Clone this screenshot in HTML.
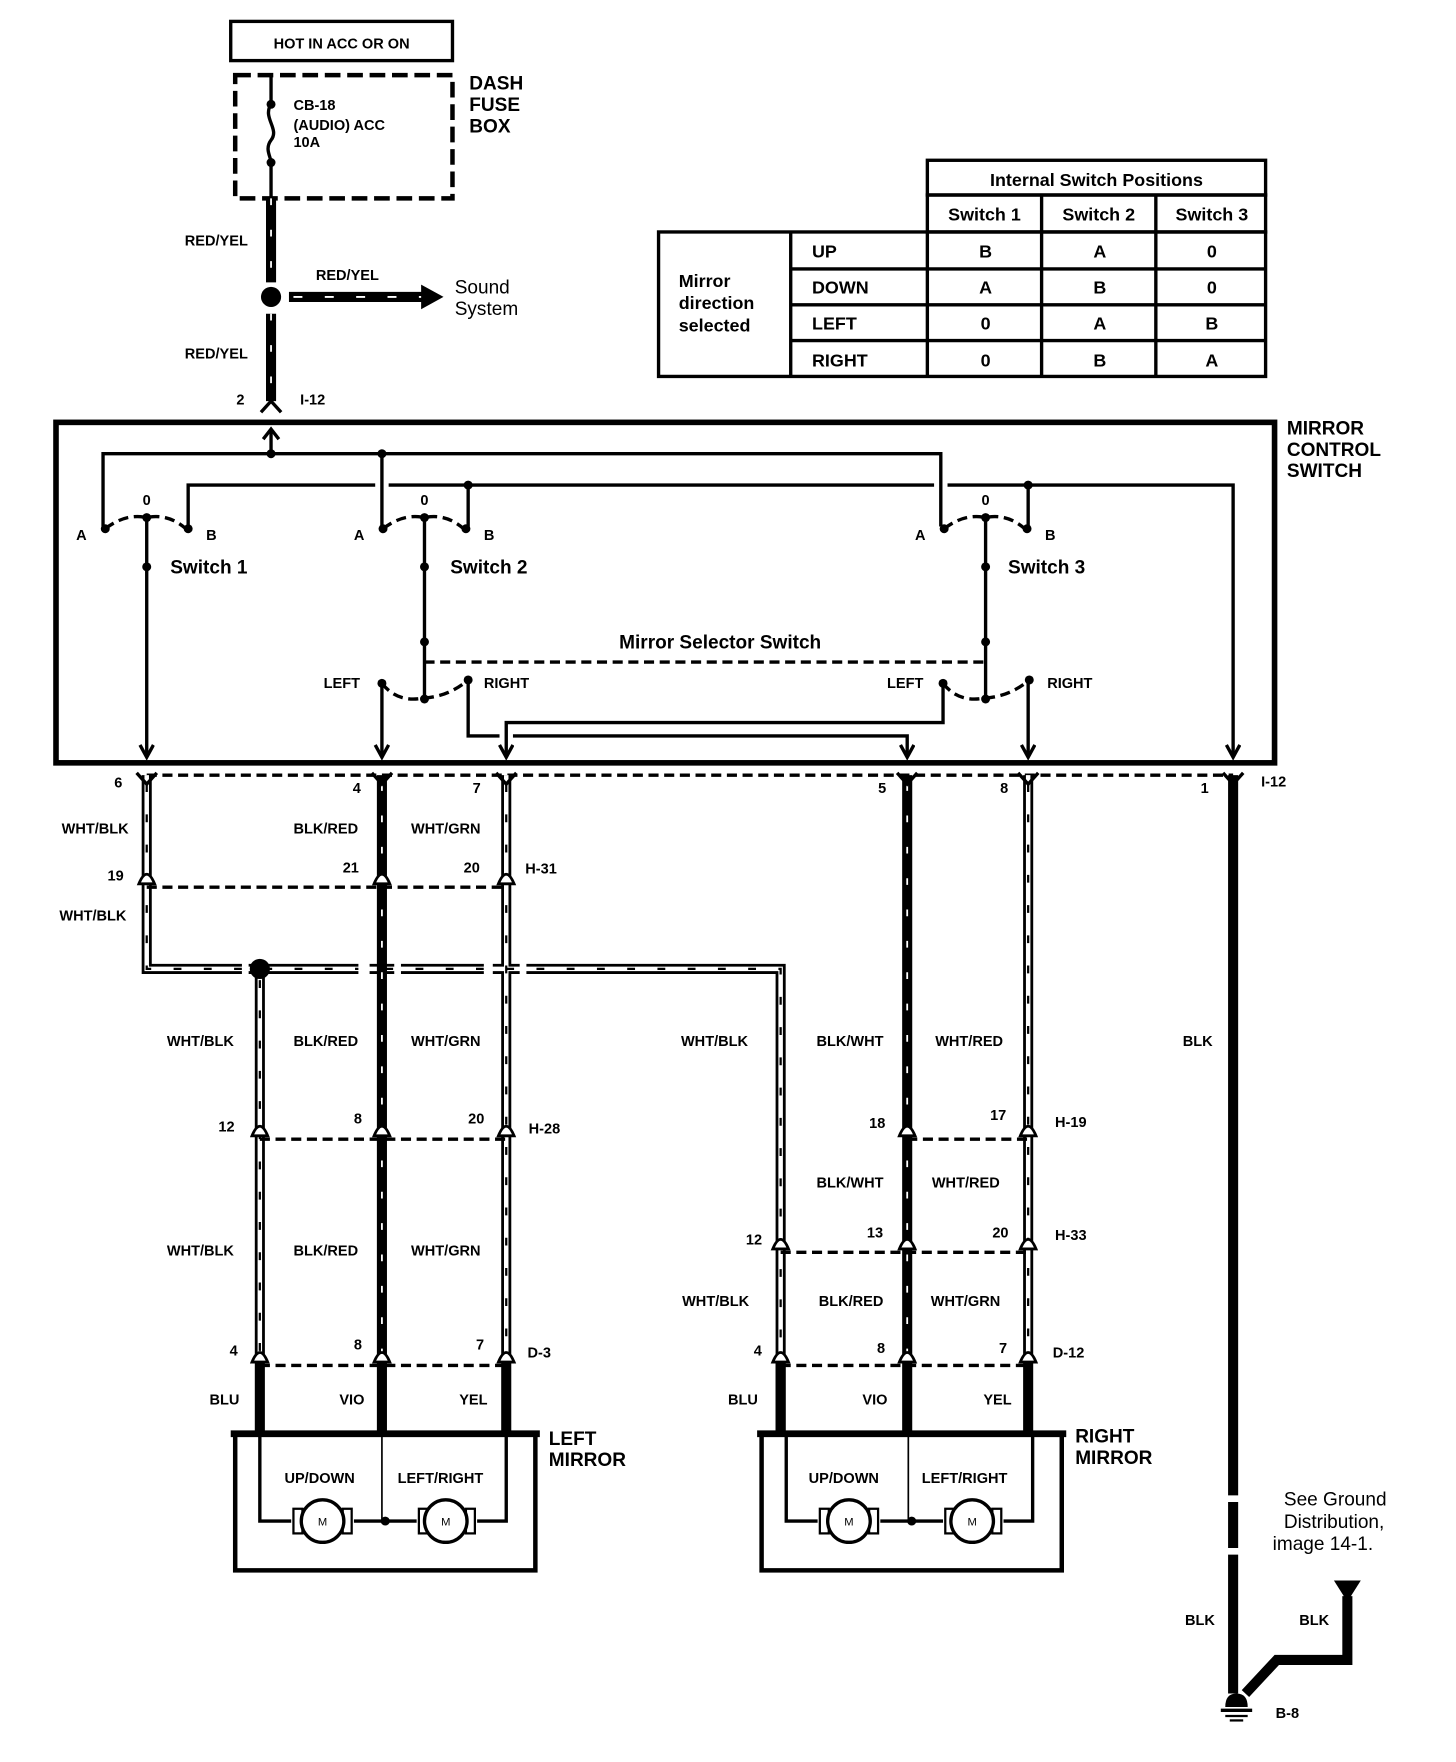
<!DOCTYPE html>
<html><head><meta charset="utf-8"><style>
html,body{margin:0;padding:0;background:#fff}
svg{display:block}
text{font-family:"Liberation Sans",sans-serif;font-weight:bold;fill:#000}
.l{font-size:13px}
.m{font-size:17px}
.n{font-size:17px;font-weight:normal}
.k{stroke:#000;stroke-width:9;fill:none}
.kw{stroke:#fff;stroke-width:1.6;stroke-dasharray:6 22;fill:none}
.h{stroke:#000;stroke-width:9;fill:none}
.hw{stroke:#fff;stroke-width:4;fill:none}
.hd{stroke:#000;stroke-width:2;stroke-dasharray:7 20;fill:none}
.t{stroke:#000;stroke-width:3;fill:none}
.d{stroke:#000;stroke-width:3;stroke-dasharray:9 5;fill:none}
.db{stroke:#000;stroke-width:4;stroke-dasharray:14 6;fill:none}
</style></head><body>
<svg width="1456" height="1762" viewBox="0 0 1300 1573" xmlns="http://www.w3.org/2000/svg">
<defs>
<marker id="ar" markerWidth="16" markerHeight="16" refX="13" refY="7" orient="auto" markerUnits="userSpaceOnUse"><path d="M2,1 L13,7 L2,13" stroke="#000" stroke-width="3" fill="none"/></marker>
</defs>
<!-- top -->
<rect x="206" y="19" width="198" height="35" class="t"/>
<text x="305" y="43" class="l" text-anchor="middle">HOT IN ACC OR ON</text>
<rect x="210" y="67" width="194" height="110" class="db"/>
<line x1="242" y1="67" x2="242" y2="92" class="t"/>
<circle cx="242" cy="93" r="4"/>
<path d="M242,93 C234,105 250,115 242,125 C236,133 242,140 242,145" class="t"/>
<circle cx="242" cy="145" r="4"/>
<line x1="242" y1="145" x2="242" y2="177" class="t"/>
<text x="262" y="98" class="l">CB-18</text>
<text x="262" y="116" class="l">(AUDIO) ACC</text>
<text x="262" y="131" class="l">10A</text>
<text x="419" y="80" class="m">DASH</text>
<text x="419" y="99" class="m">FUSE</text>
<text x="419" y="118" class="m">BOX</text>
<line x1="242" y1="177" x2="242" y2="252" class="k"/><line x1="242" y1="177" x2="242" y2="252" class="kw"/>
<circle cx="242" cy="265" r="9"/>
<line x1="258" y1="265" x2="378" y2="265" class="k"/><line x1="262" y1="265" x2="378" y2="265" class="kw" style="stroke-dasharray:8 20"/>
<path d="M376,254 L396,265 L376,276 Z"/>
<line x1="242" y1="280" x2="242" y2="358" class="k"/><line x1="242" y1="280" x2="242" y2="358" class="kw"/>
<path d="M233,368 L242,358 L251,368" class="t"/>
<text x="165" y="219" class="l">RED/YEL</text>
<text x="282" y="250" class="l">RED/YEL</text>
<text x="165" y="320" class="l">RED/YEL</text>
<text x="406" y="262" class="n">Sound</text>
<text x="406" y="281" class="n">System</text>
<text x="211" y="361" class="l">2</text>
<text x="268" y="361" class="l">I-12</text>
<!-- table -->
<rect x="828" y="143" width="302" height="31" class="t"/>
<text x="979" y="166" class="m" text-anchor="middle" style="font-size:16px">Internal Switch Positions</text>
<rect x="828" y="174" width="302" height="33" class="t"/>
<line x1="930" y1="174" x2="930" y2="336" class="t"/>
<line x1="1032" y1="174" x2="1032" y2="336" class="t"/>
<text x="879" y="197" class="m" text-anchor="middle" style="font-size:16px">Switch 1</text>
<text x="981" y="197" class="m" text-anchor="middle" style="font-size:16px">Switch 2</text>
<text x="1082" y="197" class="m" text-anchor="middle" style="font-size:16px">Switch 3</text>
<rect x="588" y="207" width="542" height="129" class="t"/>
<line x1="706" y1="207" x2="706" y2="336" class="t"/>
<line x1="828" y1="207" x2="828" y2="336" class="t"/>
<line x1="706" y1="240" x2="1130" y2="240" class="t"/>
<line x1="706" y1="272" x2="1130" y2="272" class="t"/>
<line x1="706" y1="304" x2="1130" y2="304" class="t"/>
<text x="606" y="256" class="m" style="font-size:16px">Mirror</text>
<text x="606" y="276" class="m" style="font-size:16px">direction</text>
<text x="606" y="296" class="m" style="font-size:16px">selected</text>
<g class="m" style="font-size:16px">
<text x="725" y="230">UP</text><text x="725" y="262">DOWN</text><text x="725" y="294">LEFT</text><text x="725" y="327">RIGHT</text>
</g>
<g class="m" style="font-size:16px" text-anchor="middle">
<text x="880" y="230">B</text><text x="982" y="230">A</text><text x="1082" y="230">0</text>
<text x="880" y="262">A</text><text x="982" y="262">B</text><text x="1082" y="262">0</text>
<text x="880" y="294">0</text><text x="982" y="294">A</text><text x="1082" y="294">B</text>
<text x="880" y="327">0</text><text x="982" y="327">B</text><text x="1082" y="327">A</text>
</g>
<!-- control switch box -->
<rect x="50" y="377" width="1088" height="304" style="stroke:#000;stroke-width:5;fill:none"/>
<text x="1149" y="388" class="m">MIRROR</text>
<text x="1149" y="407" class="m">CONTROL</text>
<text x="1149" y="426" class="m">SWITCH</text>
<line x1="242" y1="405" x2="242" y2="384" class="t"/><path d="M235,392 L242,383 L249,392" class="t"/>
<polyline points="92,470 92,405 840,405 840,470" class="t"/>
<line x1="341" y1="405" x2="341" y2="470" class="t"/>
<circle cx="242" cy="405" r="4"/><circle cx="341" cy="405" r="4"/>
<polyline points="168,470 168,433 335,433" class="t"/>
<line x1="347" y1="433" x2="834" y2="433" class="t"/>
<polyline points="846,433 1101,433 1101,676" class="t" marker-end="url(#ar)"/>
<line x1="418" y1="433" x2="418" y2="470" class="t"/><line x1="918" y1="433" x2="918" y2="470" class="t"/>
<circle cx="418" cy="433" r="4"/><circle cx="918" cy="433" r="4"/>
<!-- switches -->
<g id="sw">
<text x="131" y="451" class="l" text-anchor="middle">0</text>
<path d="M94,472 Q112,458 131,462 Q150,458 166,472" class="d"/>
<circle cx="131" cy="462" r="4"/><circle cx="94" cy="472" r="4"/><circle cx="168" cy="472" r="4"/>
<text x="68" y="482" class="l">A</text><text x="184" y="482" class="l">B</text>
</g>
<use href="#sw" x="248"/><use href="#sw" x="749"/>
<line x1="131" y1="462" x2="131" y2="676" class="t" marker-end="url(#ar)"/>
<circle cx="131" cy="506" r="4"/>
<text x="152" y="512" class="m">Switch 1</text>
<line x1="379" y1="462" x2="379" y2="625" class="t"/>
<circle cx="379" cy="506" r="4"/><circle cx="379" cy="573" r="4"/>
<text x="402" y="512" class="m">Switch 2</text>
<line x1="880" y1="462" x2="880" y2="625" class="t"/>
<circle cx="880" cy="506" r="4"/><circle cx="880" cy="573" r="4"/>
<text x="900" y="512" class="m">Switch 3</text>
<text x="643" y="579" class="m" text-anchor="middle">Mirror Selector Switch</text>
<line x1="379" y1="591" x2="880" y2="591" class="d"/>
<g id="sel">
<path d="M341,610 Q355,628 379,623 Q400,622 418,607" class="d"/>
<circle cx="341" cy="610" r="4"/><circle cx="379" cy="624" r="4"/><circle cx="418" cy="607" r="4"/>
</g>
<use href="#sel" x="501"/>
<text x="289" y="614" class="l">LEFT</text><text x="432" y="614" class="l">RIGHT</text>
<text x="792" y="614" class="l">LEFT</text><text x="935" y="614" class="l">RIGHT</text>
<line x1="341" y1="610" x2="341" y2="676" class="t" marker-end="url(#ar)"/>
<polyline points="418,607 418,657 446,657" class="t"/>
<polyline points="458,657 810,657 810,676" class="t" marker-end="url(#ar)"/>
<polyline points="842,610 842,645 452,645 452,676" class="t" marker-end="url(#ar)"/>
<line x1="918" y1="607" x2="918" y2="676" class="t" marker-end="url(#ar)"/>
<!-- connector row I-12 -->
<line x1="131" y1="692" x2="1101" y2="692" class="d"/>
<g class="l">
<text x="102" y="703">6</text><text x="315" y="708">4</text><text x="422" y="708">7</text>
<text x="784" y="708">5</text><text x="893" y="708">8</text><text x="1072" y="708">1</text><text x="1126" y="702">I-12</text>
</g>
<!-- hollow wires -->
<g>
<path d="M131,692 V865 H697 V1280" class="h"/>
<path d="M232,865 V1215" class="h"/>
<path d="M452,692 V1215" class="h"/>
<path d="M918,692 V1215" class="h"/>
<path d="M131,692 V865 H697 V1280" class="hw"/>
<path d="M232,865 V1215" class="hw"/>
<path d="M452,692 V1215" class="hw"/>
<path d="M918,692 V1215" class="hw"/>
<path d="M131,700 V865 H697 V1215" class="hd"/>
<path d="M232,875 V1215" class="hd"/><path d="M452,700 V1215" class="hd"/><path d="M918,700 V1215" class="hd"/>
</g>
<!-- solid wires -->
<path d="M341,692 V1280" class="k"/><path d="M341,700 V1215" class="kw"/>
<path d="M810,692 V1280" class="k"/><path d="M810,700 V1215" class="kw"/>
<path d="M232,1215 V1280 M452,1215 V1280 M697,1215 V1280 M918,1215 V1280" class="k"/>
<line x1="1101" y1="692" x2="1101" y2="1335" class="k"/>
<line x1="1101" y1="1341" x2="1101" y2="1382" class="k"/>
<line x1="1101" y1="1388" x2="1101" y2="1512" class="k"/>
<circle cx="232" cy="865" r="9"/>
<!-- gaps for crossings -->
<rect x="216" y="859" width="6" height="12" fill="#fff"/><rect x="320" y="859" width="10" height="12" fill="#fff"/><rect x="352" y="859" width="6" height="12" fill="#fff"/>
<rect x="432" y="859" width="8" height="12" fill="#fff"/><rect x="464" y="859" width="6" height="12" fill="#fff"/>
<!-- connector dashed lines -->
<line x1="131" y1="792" x2="452" y2="792" class="d"/>
<line x1="232" y1="1017" x2="452" y2="1017" class="d"/>
<line x1="232" y1="1219" x2="452" y2="1219" class="d"/>
<line x1="810" y1="1017" x2="918" y2="1017" class="d"/>
<line x1="697" y1="1118" x2="918" y2="1118" class="d"/>
<line x1="697" y1="1219" x2="918" y2="1219" class="d"/>
<!-- connector markers -->
<g style="fill:#fff;stroke:#000;stroke-width:2.5">
<path d="M124,789 Q131,772 138,789 Z"/><path d="M334,789 Q341,772 348,789 Z"/><path d="M445,789 Q452,772 459,789 Z"/>
<path d="M225,1014 Q232,997 239,1014 Z"/><path d="M334,1014 Q341,997 348,1014 Z"/><path d="M445,1014 Q452,997 459,1014 Z"/>
<path d="M225,1216 Q232,1199 239,1216 Z"/><path d="M334,1216 Q341,1199 348,1216 Z"/><path d="M445,1216 Q452,1199 459,1216 Z"/>
<path d="M803,1014 Q810,997 817,1014 Z"/><path d="M911,1014 Q918,997 925,1014 Z"/>
<path d="M690,1115 Q697,1098 704,1115 Z"/><path d="M803,1115 Q810,1098 817,1115 Z"/><path d="M911,1115 Q918,1098 925,1115 Z"/>
<path d="M690,1216 Q697,1199 704,1216 Z"/><path d="M803,1216 Q810,1199 817,1216 Z"/><path d="M911,1216 Q918,1199 925,1216 Z"/>
</g>
<g class="t"><path d="M122,690 L131,700 L140,690 M332,690 L341,700 L350,690 M443,690 L452,700 L461,690 M801,690 L810,700 L819,690 M909,690 L918,700 L927,690 M1092,690 L1101,700 L1110,690"/></g>
<!-- wire labels -->
<g class="l">
<text x="55" y="744">WHT/BLK</text><text x="262" y="744">BLK/RED</text><text x="367" y="744">WHT/GRN</text>
<text x="96" y="786">19</text><text x="306" y="779">21</text><text x="414" y="779">20</text><text x="469" y="780">H-31</text>
<text x="53" y="822">WHT/BLK</text>
<text x="149" y="934">WHT/BLK</text><text x="262" y="934">BLK/RED</text><text x="367" y="934">WHT/GRN</text>
<text x="608" y="934">WHT/BLK</text><text x="729" y="934">BLK/WHT</text><text x="835" y="934">WHT/RED</text><text x="1056" y="934">BLK</text>
<text x="195" y="1010">12</text><text x="316" y="1003">8</text><text x="418" y="1003">20</text><text x="472" y="1012">H-28</text>
<text x="776" y="1007">18</text><text x="884" y="1000">17</text><text x="942" y="1006">H-19</text>
<text x="729" y="1060">BLK/WHT</text><text x="832" y="1060">WHT/RED</text>
<text x="666" y="1111">12</text><text x="774" y="1105">13</text><text x="886" y="1105">20</text><text x="942" y="1107">H-33</text>
<text x="149" y="1121">WHT/BLK</text><text x="262" y="1121">BLK/RED</text><text x="367" y="1121">WHT/GRN</text>
<text x="609" y="1166">WHT/BLK</text><text x="731" y="1166">BLK/RED</text><text x="831" y="1166">WHT/GRN</text>
<text x="205" y="1210">4</text><text x="316" y="1205">8</text><text x="425" y="1205">7</text><text x="471" y="1212">D-3</text>
<text x="673" y="1210">4</text><text x="783" y="1208">8</text><text x="892" y="1208">7</text><text x="940" y="1212">D-12</text>
<text x="187" y="1254">BLU</text><text x="303" y="1254">VIO</text><text x="410" y="1254">YEL</text>
<text x="650" y="1254">BLU</text><text x="770" y="1254">VIO</text><text x="878" y="1254">YEL</text>
<text x="1058" y="1451">BLK</text><text x="1160" y="1451">BLK</text><text x="1139" y="1534">B-8</text>
</g>
<!-- mirrors -->
<g id="mir">
<rect x="210" y="1280" width="268" height="122" style="stroke:#000;stroke-width:4;fill:none"/>
<line x1="206" y1="1280" x2="482" y2="1280" style="stroke:#000;stroke-width:6"/>
<polyline points="232,1280 232,1358 260,1358" class="t"/>
<polyline points="316,1358 372,1358" class="t"/>
<polyline points="426,1358 452,1358 452,1280" class="t"/>
<line x1="341" y1="1280" x2="341" y2="1358" style="stroke:#000;stroke-width:1.5"/>
<circle cx="344" cy="1358" r="4"/>
<rect x="262" y="1347" width="8" height="22" class="t" style="stroke-width:2"/><rect x="306" y="1347" width="8" height="22" class="t" style="stroke-width:2"/>
<circle cx="288" cy="1358" r="19" style="fill:#fff;stroke:#000;stroke-width:3"/>
<rect x="374" y="1347" width="8" height="22" class="t" style="stroke-width:2"/><rect x="416" y="1347" width="8" height="22" class="t" style="stroke-width:2"/>
<circle cx="398" cy="1358" r="19" style="fill:#fff;stroke:#000;stroke-width:3"/>
<text x="288" y="1362" text-anchor="middle" style="font-size:10px;font-weight:normal">M</text>
<text x="398" y="1362" text-anchor="middle" style="font-size:10px;font-weight:normal">M</text>
</g>
<g class="l"><text x="254" y="1324">UP/DOWN</text><text x="355" y="1324">LEFT/RIGHT</text></g>
<use href="#mir" x="470"/>
<g class="l"><text x="722" y="1324">UP/DOWN</text><text x="823" y="1324">LEFT/RIGHT</text></g>
<text x="490" y="1290" class="m">LEFT</text><text x="490" y="1309" class="m">MIRROR</text>
<text x="960" y="1288" class="m">RIGHT</text><text x="960" y="1307" class="m">MIRROR</text>
<!-- ground -->
<text x="1238" y="1344" class="n" text-anchor="end">See Ground</text>
<text x="1236" y="1364" class="n" text-anchor="end">Distribution,</text>
<text x="1226" y="1384" class="n" text-anchor="end">image 14-1.</text>
<path d="M1191,1411 L1215,1411 L1203,1430 Z"/>
<polyline points="1203,1425 1203,1482 1140,1482 1112,1512" style="stroke:#000;stroke-width:9;fill:none"/>
<path d="M1094,1524 Q1094,1512 1104,1512 Q1114,1512 1114,1524 Z"/>
<line x1="1090" y1="1527" x2="1118" y2="1527" style="stroke:#000;stroke-width:3"/>
<line x1="1094" y1="1532" x2="1114" y2="1532" style="stroke:#000;stroke-width:2"/>
<line x1="1098" y1="1536" x2="1110" y2="1536" style="stroke:#000;stroke-width:2"/>
</svg>
</body></html>
